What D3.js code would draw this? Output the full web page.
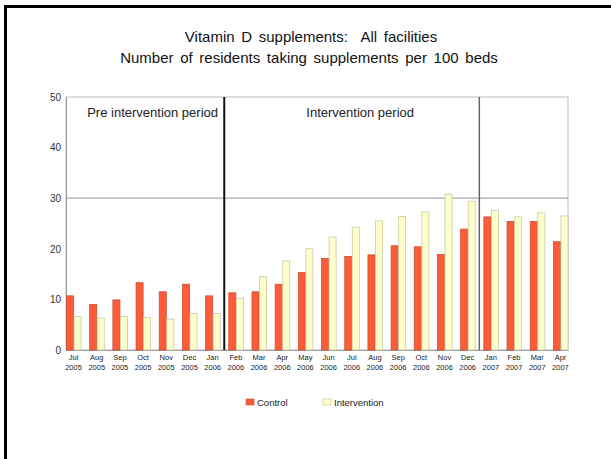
<!DOCTYPE html>
<html><head><meta charset="utf-8">
<script src="https://cdn.jsdelivr.net/npm/d3@7"></script>
<style>body{margin:0;background:#fff}svg{display:block;font-family:"Liberation Sans",Arial,sans-serif}</style>
</head><body>
<script>
const months = ["Jul","Aug","Sep","Oct","Nov","Dec","Jan","Feb","Mar","Apr","May","Jun","Jul","Aug","Sep","Oct","Nov","Dec","Jan","Feb","Mar","Apr"];
const years = ["2005","2005","2005","2005","2005","2005","2006","2006","2006","2006","2006","2006","2006","2006","2006","2006","2006","2006","2007","2007","2007","2007"];
const control = [10.7,9.0,9.9,13.3,11.5,13.0,10.7,11.3,11.5,13.0,15.3,18.1,18.5,18.8,20.6,20.4,18.9,23.9,26.3,25.4,25.4,21.4];
const intervention = [6.6,6.3,6.6,6.4,6.1,7.2,7.2,10.2,14.5,17.6,20.0,22.3,24.3,25.5,26.4,27.3,30.8,29.4,27.6,26.3,27.1,26.5];
const yTicks = [0,10,20,30,40,50];
const seriesNames = ["Control","Intervention"];
const periodLabels = ["Pre intervention period","Intervention period"];

const W=611,H=459;
const svg=d3.select("body").append("svg").attr("width",W).attr("height",H);
const L=66,R=568,T=97,B=350;
const cats=months.map((m,i)=>i);
const x=d3.scaleBand().domain(cats).range([L,R]).paddingInner(0.35).paddingOuter(0);
const y=d3.scaleLinear().domain([0,50]).range([B,T]);

// outer border (left & top)
svg.append("path").attr("d",`M5.5,${H} V6.5 H${W}`).attr("fill","none").attr("stroke","#000").attr("stroke-width",3);

// title
svg.append("text").attr("x",311).attr("y",42).attr("text-anchor","middle").attr("font-size",15).attr("word-spacing",2.5).attr("fill","#111").attr("xml:space","preserve").text("Vitamin D supplements:  All facilities");
svg.append("text").attr("x",309).attr("y",63).attr("text-anchor","middle").attr("font-size",15).attr("word-spacing",2.5).attr("fill","#111").text("Number of residents taking supplements per 100 beds");

// plot frame
svg.append("rect").attr("x",L).attr("y",T).attr("width",R-L).attr("height",B-T).attr("fill","none").attr("stroke","#c8c8c8").attr("stroke-width",1.2);
// gridline at 30
svg.append("line").attr("x1",L).attr("x2",R).attr("y1",y(30)).attr("y2",y(30)).attr("stroke","#aaa").attr("stroke-width",1.2);

// y axis
const ya=svg.append("g").attr("transform",`translate(${L},0)`).call(d3.axisLeft(y).tickValues(yTicks).tickSize(0).tickPadding(5));
ya.select(".domain").attr("stroke","#999");
ya.selectAll("text").attr("font-size",10).attr("fill","#333").attr("font-family","Liberation Sans, Arial, sans-serif");

// x axis
const xa=svg.append("g").attr("transform",`translate(0,${B})`).call(d3.axisBottom(x).tickSize(0).tickFormat(""));
xa.select(".domain").attr("stroke","#999");
const bw=x.bandwidth(), half=bw/2;
const xl=svg.append("g").attr("font-size",7.5).attr("fill","#222").attr("text-anchor","middle");
cats.forEach(i=>{
  xl.append("text").attr("x",x(i)+half).attr("y",B+10).text(months[i]);
  xl.append("text").attr("x",x(i)+half).attr("y",B+20).text(years[i]);
});

// bars
const g=svg.append("g");
g.selectAll(".c").data(cats).join("rect").attr("x",i=>x(i)+0.5).attr("width",half-0.5)
  .attr("y",i=>y(control[i])).attr("height",i=>B-y(control[i]))
  .attr("fill","#ff5b38").attr("stroke","#c8502f").attr("stroke-width",0.8);
g.selectAll(".v").data(cats).join("rect").attr("x",i=>x(i)+half+0.5).attr("width",half-0.5)
  .attr("y",i=>y(intervention[i])).attr("height",i=>B-y(intervention[i]))
  .attr("fill","#ffffcc").attr("stroke","#c9c9a6").attr("stroke-width",0.8);

// period divider lines
const step=x.step();
const gap=step-bw;
const l1=x(6)+bw+gap/2, l2=x(17)+bw+gap/2;
svg.append("line").attr("x1",l1).attr("x2",l1).attr("y1",T).attr("y2",B).attr("stroke","#111").attr("stroke-width",2);
svg.append("line").attr("x1",l2).attr("x2",l2).attr("y1",T).attr("y2",B).attr("stroke","#666").attr("stroke-width",1.5);

// period labels
svg.append("text").attr("x",218).attr("y",117).attr("text-anchor","end").attr("font-size",13).attr("fill","#222").text(periodLabels[0]);
svg.append("text").attr("x",414).attr("y",117).attr("text-anchor","end").attr("font-size",13).attr("fill","#222").text(periodLabels[1]);

// legend
const leg=svg.append("g").attr("font-size",9.5).attr("fill","#222");
leg.append("rect").attr("x",246).attr("y",399).attr("width",8).attr("height",6).attr("fill","#ff5b38").attr("stroke","#c8502f").attr("stroke-width",0.6);
leg.append("text").attr("x",257).attr("y",406).text(seriesNames[0]);
leg.append("rect").attr("x",323).attr("y",399).attr("width",8).attr("height",6).attr("fill","#ffffcc").attr("stroke","#bdbd9a").attr("stroke-width",0.6);
leg.append("text").attr("x",334).attr("y",406).text(seriesNames[1]);
</script>
</body></html>
